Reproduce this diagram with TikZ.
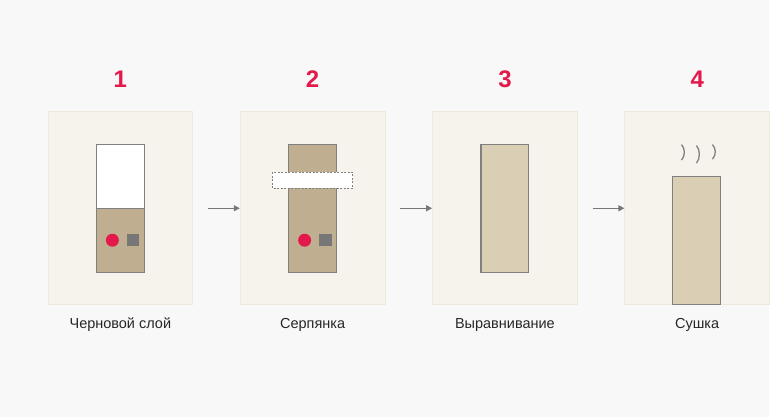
\documentclass[tikz,border=0pt]{standalone}
\usepackage{fontspec}
\setmainfont{Liberation Sans}
\usetikzlibrary{arrows.meta,positioning}
\definecolor{bgcol}{HTML}{F8F8F8}
\definecolor{panelfill}{HTML}{F6F2EC}
\definecolor{panelline}{HTML}{EEE8E0}
\definecolor{tan}{HTML}{BFAE8F}
\definecolor{lighttan}{HTML}{DACEB5}
\definecolor{wallline}{HTML}{808080}
\definecolor{numred}{HTML}{E3194B}
\definecolor{arrowgray}{HTML}{777777}

\begin{document}
\begin{tikzpicture}[x=1pt,y=-1pt,
  panel/.style={draw=panelline,fill=panelfill,line width=0.8pt,minimum width=145pt,minimum height=193pt,inner sep=0pt},
  num/.style={text=numred,font=\bfseries\fontsize{24}{24}\selectfont},
  caption/.style={anchor=base,font=\fontsize{14.5}{14.5}\selectfont,text=black!85},
  wall/.style={draw=wallline,line width=1.2pt},
  flow/.style={draw=arrowgray,line width=1.4pt,-{Triangle[length=6pt,width=6pt]}}]
\fill[bgcol] (0,0) rectangle (770,417);
\foreach \i/\t in {1/Черновой слой,2/Серпянка,3/Выравнивание,4/Сушка}{
  \node[panel] (p\i) at ({120.5+192.5*(\i-1)},208.5) {};
  \node[num] (n\i) at ({120.5+192.5*(\i-1)},79.5) {\i};
  \node[caption] (c\i) at ({120.5+192.5*(\i-1)},329) {\t};
}
% arrows
\foreach \i/\j in {1/2,2/3,3/4}
  \draw[flow] ([xshift=15pt]p\i.east) -- (p\j.west);
% 1
\fill[white] (96.5,144.5) rectangle (144.5,208.5);
\fill[tan] (96.5,208.5) rectangle (144.5,272.5);
\draw[wall] (96.5,144.5) rectangle (144.5,272.5);
\draw[wall] (96.5,208.5) -- (144.5,208.5);
\fill[numred] (112.5,240.5) circle (6.5);
\fill[arrowgray] (127,234) rectangle (139.5,246.5);
% 2
\draw[wall,fill=tan] (289,144.5) rectangle (337,272.5);
\draw[draw=wallline,fill=white,line width=0.7pt,dash pattern=on 2pt off 1.5pt] (272.5,172.5) rectangle (353,188.5);
\fill[numred] (305,240.5) circle (6.5);
\fill[arrowgray] (319.5,234) rectangle (332,246.5);
% 3
\draw[wall,fill=lighttan] (481.5,144.5) rectangle (529.5,272.5);
% 4
\draw[wall,fill=lighttan] (673.5,176.5) rectangle (721.5,304.5);
\foreach \x/\a/\b in {682.5/145/160,697.5/146/163,713.5/145/159}
  \draw[wallline,line width=1.3pt,line cap=round] (\x,\a) .. controls (\x+3.5,\a+4) and (\x+3.5,\b-4) .. (\x,\b);
\end{tikzpicture}
\end{document}
